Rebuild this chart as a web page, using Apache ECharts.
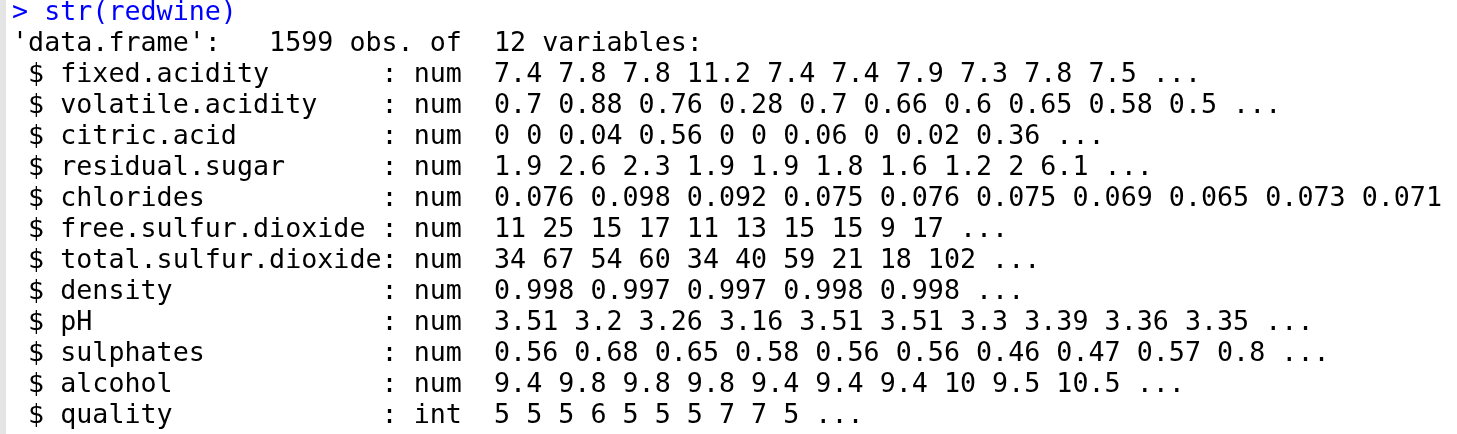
<!DOCTYPE html>
<html>
<head>
<meta charset="utf-8">
<script src="https://cdn.jsdelivr.net/npm/echarts@6/dist/echarts.min.js"></script>
<style>
  html, body { margin: 0; padding: 0; background: #fff; }
  #main { width: 1457px; height: 434px; }
</style>
</head>
<body>
<div id="main"></div>
<script>
var command = '> str(redwine)';
var header = "'data.frame':   1599 obs. of  12 variables:";
var varNames = ['fixed.acidity', 'volatile.acidity', 'citric.acid', 'residual.sugar',
    'chlorides', 'free.sulfur.dioxide', 'total.sulfur.dioxide', 'density', 'pH',
    'sulphates', 'alcohol', 'quality'];
var varTypes = ['num', 'num', 'num', 'num', 'num', 'num', 'num', 'num', 'num', 'num', 'num', 'int'];
var varValues = [
    '7.4 7.8 7.8 11.2 7.4 7.4 7.9 7.3 7.8 7.5 ...',
    '0.7 0.88 0.76 0.28 0.7 0.66 0.6 0.65 0.58 0.5 ...',
    '0 0 0.04 0.56 0 0 0.06 0 0.02 0.36 ...',
    '1.9 2.6 2.3 1.9 1.9 1.8 1.6 1.2 2 6.1 ...',
    '0.076 0.098 0.092 0.075 0.076 0.075 0.069 0.065 0.073 0.071',
    '11 25 15 17 11 13 15 15 9 17 ...',
    '34 67 54 60 34 40 59 21 18 102 ...',
    '0.998 0.997 0.997 0.998 0.998 ...',
    '3.51 3.2 3.26 3.16 3.51 3.51 3.3 3.39 3.36 3.35 ...',
    '0.56 0.68 0.65 0.58 0.56 0.56 0.46 0.47 0.57 0.8 ...',
    '9.4 9.8 9.8 9.8 9.4 9.4 9.4 10 9.5 10.5 ...',
    '5 5 5 6 5 5 5 7 7 5 ...'
];

var myChart = echarts.init(document.getElementById('main'));

var font = '26.7px "DejaVu Sans Mono", monospace';
var lines = [header];
varNames.forEach(function (n, i) {
    lines.push(' $ ' + n.padEnd(20, ' ') + ': ' + varTypes[i] + '  ' + varValues[i]);
});

var elements = [{
    type: 'rect',
    shape: { x: 0, y: 0, width: 6, height: 434 },
    style: { fill: '#e4e4e4' }
}, {
    type: 'text',
    x: 12, y: 13,
    style: { text: command, font: font, fill: '#0000ff', textVerticalAlign: 'middle' }
}];
lines.forEach(function (l, k) {
    elements.push({
        type: 'text',
        x: 12, y: 44 + 31 * k,
        style: { text: l, font: font, fill: '#000000', textVerticalAlign: 'middle' }
    });
});

var option = {
    backgroundColor: '#ffffff',
    graphic: { elements: elements }
};
myChart.setOption(option);
</script>
</body>
</html>
